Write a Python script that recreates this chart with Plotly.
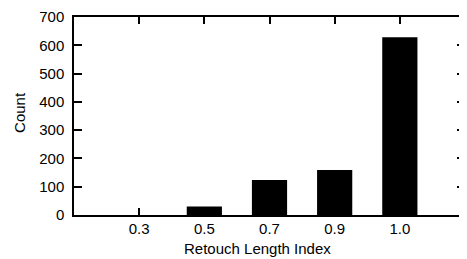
import plotly.graph_objects as go

categories = ["0.3", "0.5", "0.7", "0.9", "1.0"]
counts = [0, 30, 124, 159, 628]
y_ticks = [0, 100, 200, 300, 400, 500, 600, 700]
x_title = "Retouch Length Index"
y_title = "Count"

fig = go.Figure(go.Bar(
    x=list(range(len(categories))), y=counts,
    marker=dict(color="black", line=dict(width=0)),
    width=0.54,
))

axis_common = dict(
    showline=True, linecolor="black", linewidth=1.5, mirror="ticks",
    ticks="inside", tickcolor="black", tickwidth=1.5,
    showgrid=False, zeroline=False, automargin=False,
    ticklabeloverflow="allow",
)

fig.update_layout(
    width=459, height=251,
    margin=dict(l=66, r=2, t=9, b=44),
    paper_bgcolor="white", plot_bgcolor="white",
    font=dict(family="Liberation Sans, Arial, sans-serif", size=15, color="black"),
    showlegend=False,
    xaxis=dict(
        axis_common, ticklen=7, ticklabelstandoff=-1,
        range=[-1, 5], tickmode="array",
        tickvals=list(range(len(categories))), ticktext=categories,
    ),
    yaxis=dict(
        axis_common, ticklen=8, ticklabelstandoff=5,
        range=[0, 700], tickmode="array", tickvals=y_ticks,
    ),
    annotations=[
        dict(text=x_title, xref="paper", yref="paper", x=0.47, y=-0.222,
             xanchor="center", yanchor="bottom", showarrow=False),
        dict(text=y_title, xref="paper", yref="paper", x=-0.141, y=0.52,
             xanchor="center", yanchor="middle", textangle=-90, showarrow=False),
    ],
)

fig.write_html("out.html")
